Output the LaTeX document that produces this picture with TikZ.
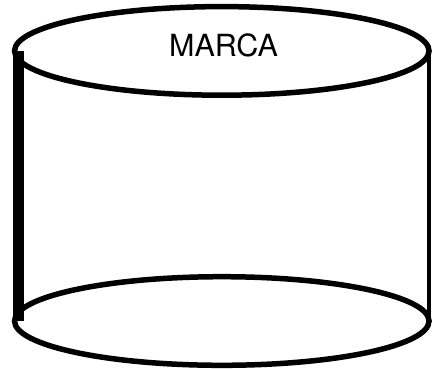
\documentclass[tikz,border=0pt]{standalone}
\usepackage{fontspec}
\setmainfont{TeX Gyre Heros}
\usetikzlibrary{shapes.geometric}

\begin{document}
\begin{tikzpicture}[x=1pt,y=-1pt,
  rim/.style={draw,ellipse,line width=5.5pt,outer sep=0pt,minimum width=414.5pt,minimum height=88.6pt,inner sep=0pt}]
\useasboundingbox (0,0) rectangle (432,368);
\node [rim] (top) at (221.8,50.9) {};
\node [rim] (bottom) at (221.8,321) {};
% sides of the can
\draw [line width=10.5pt] ([xshift=4pt]top.west) -- ([xshift=4pt]bottom.west);
\draw [line width=3.5pt] (top.east) -- (bottom.east);
\node [font=\fontsize{30.5}{36}\selectfont] (name) at (223.5,45.8) {MARCA};
\end{tikzpicture}
\end{document}
